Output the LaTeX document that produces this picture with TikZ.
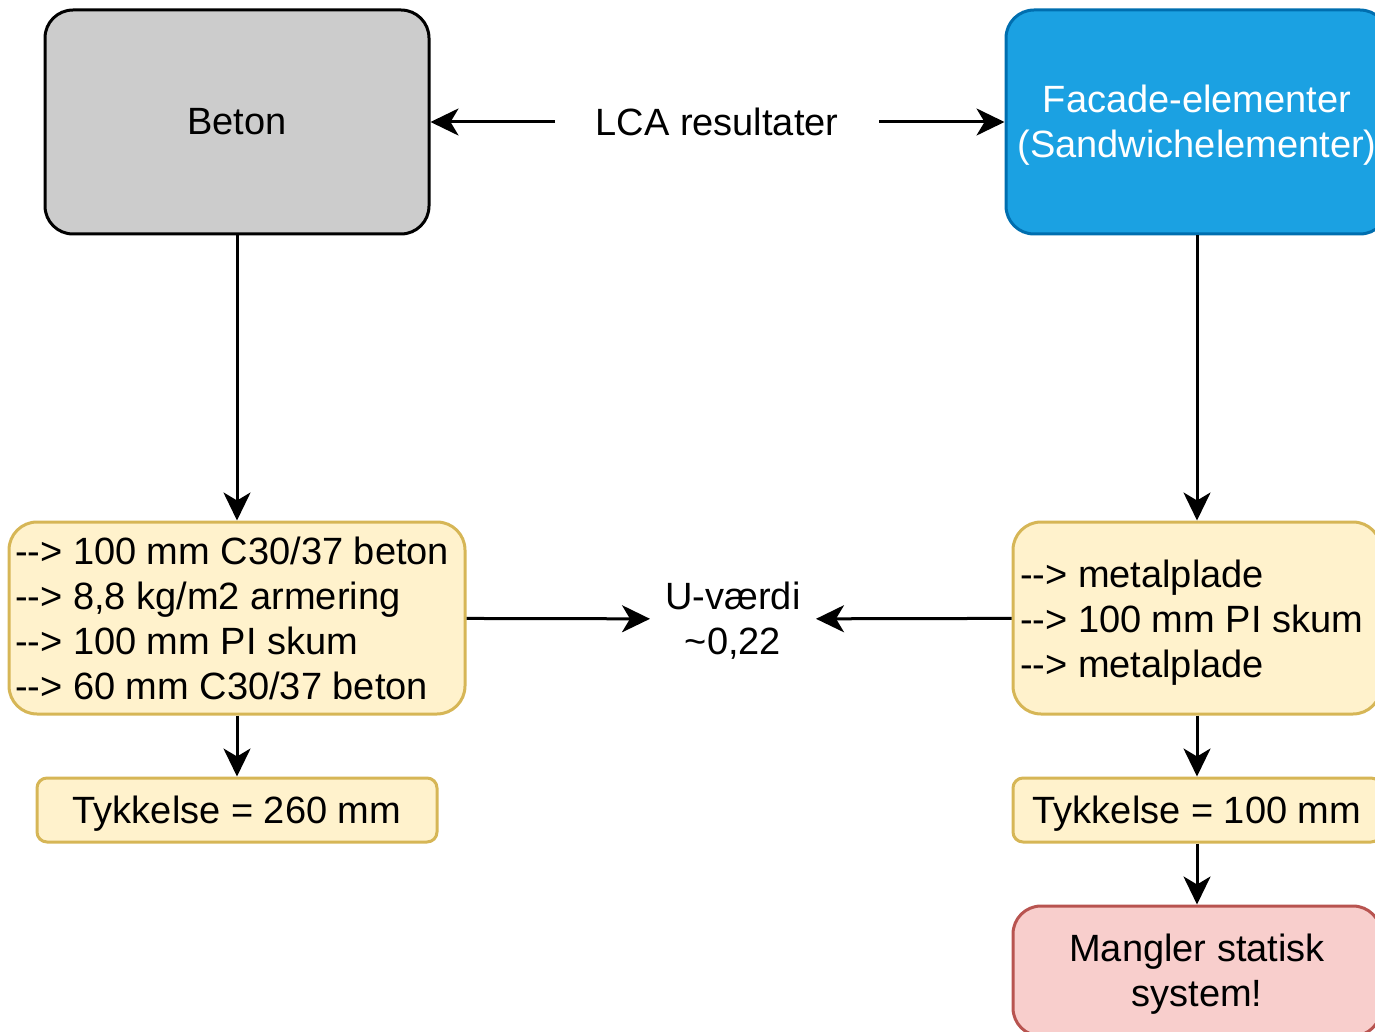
\documentclass[tikz,border=0pt]{standalone}
\usepackage{fontspec}
\setmainfont{Liberation Sans}
\usepackage{xcolor}
\usepackage{tikz}
\usetikzlibrary{positioning,arrows.meta}
\definecolor{grayfill}{HTML}{CCCCCC}
\definecolor{bluefill}{HTML}{1BA1E2}
\definecolor{bluedraw}{HTML}{006EAF}
\definecolor{yellowfill}{HTML}{FFF2CC}
\definecolor{yellowdraw}{HTML}{D6B656}
\definecolor{redfill}{HTML}{F8CECC}
\definecolor{reddraw}{HTML}{B85450}
\newcommand{\layarrow}{-{}->{} }
\newcommand{\topstrut}[1]{\rule{0pt}{#1}}

\begin{document}
\begin{tikzpicture}[x=1pt,y=-1pt,line width=3pt,
    >={Stealth[length=28pt,width=27pt,inset=8pt]},
    every node/.style={font=\fontsize{38}{45}\selectfont,inner sep=0pt},
    block/.style={draw,rounded corners=28pt,align=center},
    layerbox/.style={draw=yellowdraw,fill=yellowfill,rounded corners=28pt,align=flush left,minimum height=192pt},
    thickbox/.style={draw=yellowdraw,fill=yellowfill,rounded corners=10pt,minimum height=64pt,text height=35pt,text depth=8pt}]
    \useasboundingbox (0,0) rectangle (1375,1032);
    % top row
    \node[block,fill=grayfill,minimum width=384pt,minimum height=224pt] (beton) at (237,122) {Beton};
    \node[block,fill=bluefill,draw=bluedraw,text=white,minimum width=382pt,minimum height=224pt] (facade) at (1197,122) {\topstrut{33pt}Facade-elementer\\(Sandwichelementer)};
    \node[minimum width=321pt] (lca) at (717,122) {LCA resultater};
    % layers
    \node[layerbox,text width=444pt,inner xsep=6pt] (layersL) at (237,618) {\topstrut{29pt}\layarrow 100 mm C30/37 beton\\\layarrow 8,8 kg/m2 armering\\\layarrow 100 mm PI skum\\\layarrow 60 mm C30/37 beton};
    \node[layerbox,text width=354pt,inner xsep=7pt] (layersR) at (1197,618) {\topstrut{37pt}\layarrow metalplade\\\layarrow 100 mm PI skum\\\layarrow metalplade};
    \node[minimum width=163pt,align=center] (uval) at (733,619) {\topstrut{31pt}U-værdi\\\textasciitilde0,22};
    % thickness
    \node[thickbox,minimum width=400pt] (tykL) at (237,810) {Tykkelse = 260 mm};
    \node[thickbox,minimum width=368pt] (tykR) at (1197,810) {Tykkelse = 100 mm};
    \node[block,fill=redfill,draw=reddraw,minimum width=368pt,minimum height=130pt] (mangler) at (1197,971) {\topstrut{33pt}Mangler statisk\\system!};
    \draw[->] (lca) -- (beton);
    \draw[->] (lca) -- (facade);
    \draw[->] (beton) -- (layersL);
    \draw[->] (facade) -- (layersR);
    \draw[->] (layersL) -- (uval);
    \draw[->] (layersR) -- (uval);
    \draw[->] (layersL) -- (tykL);
    \draw[->] (layersR) -- (tykR);
    \draw[->] (tykR) -- (mangler);
\end{tikzpicture}
\end{document}
